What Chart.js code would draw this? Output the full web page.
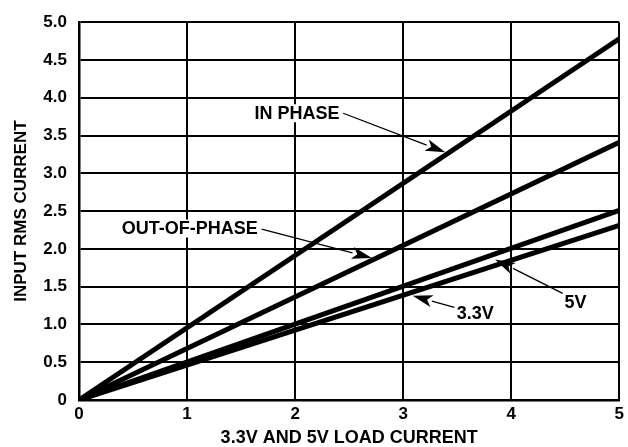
<!DOCTYPE html>
<html>
<head>
<meta charset="utf-8">
<script src="https://cdn.jsdelivr.net/npm/chart.js@4/dist/chart.umd.min.js"></script>
<style>
  html, body { margin: 0; padding: 0; background: #fff; }
  canvas { display: block; }
</style>
</head>
<body>
<canvas id="chart" width="628" height="447"></canvas>
<script>
// data
const loadCurrent = [0, 5];
const inPhase = [0, 4.78];
const outOfPhase = [0, 3.41];
const rail5V = [0, 2.51];
const rail33V = [0, 2.31];
const xTickLabels = ['0', '1', '2', '3', '4', '5'];
const yTickLabels = ['0', '0.5', '1.0', '1.5', '2.0', '2.5', '3.0', '3.5', '4.0', '4.5', '5.0'];

const FONT = '"Liberation Sans", Arial, Helvetica, sans-serif';

// callouts, placed in data units
const callouts = [
    { text: 'IN PHASE', at: [2.017, 3.795], from: [2.445, 3.795], to: [3.39, 3.28] },
    { text: 'OUT-OF-PHASE', at: [1.025, 2.27], from: [1.69, 2.26], to: [2.71, 1.88] },
    { text: '3.3V', at: [3.667, 1.152], from: [3.474, 1.225], to: [3.088, 1.38] },
    { text: '5V', at: [4.596, 1.298], from: [4.476, 1.411], to: [3.851, 1.86] }
];

function toPoints(ys) {
    return loadCurrent.map((x, i) => ({ x: x, y: ys[i] }));
}

function lineSet(ys) {
    return {
        data: toPoints(ys),
        borderColor: '#000',
        borderWidth: 5,
        pointRadius: 0,
        fill: false,
        tension: 0
    };
}

const calloutPlugin = {
    id: 'callouts',
    afterDatasetsDraw(chart) {
        const ctx = chart.ctx;
        const xs = chart.scales.x;
        const ys = chart.scales.y;
        ctx.save();
        ctx.font = 'bold 18px ' + FONT;
        ctx.textAlign = 'center';
        ctx.textBaseline = 'middle';
        callouts.forEach(c => {
            const tx = xs.getPixelForValue(c.at[0]);
            const ty = ys.getPixelForValue(c.at[1]);
            const w = ctx.measureText(c.text).width;
            ctx.fillStyle = '#fff';
            ctx.fillRect(tx - w / 2 - 2, ty - 9, w + 4, 18);
            ctx.fillStyle = '#000';
            ctx.fillText(c.text, tx, ty + 1);

            const x1 = xs.getPixelForValue(c.from[0]);
            const y1 = ys.getPixelForValue(c.from[1]);
            const x2 = xs.getPixelForValue(c.to[0]);
            const y2 = ys.getPixelForValue(c.to[1]);
            const ang = Math.atan2(y2 - y1, x2 - x1);
            const len = 20, half = 6;
            const bx = x2 - len * Math.cos(ang);
            const by = y2 - len * Math.sin(ang);
            ctx.strokeStyle = '#000';
            ctx.lineWidth = 1.3;
            ctx.beginPath();
            ctx.moveTo(x1, y1);
            ctx.lineTo(bx, by);
            ctx.stroke();
            ctx.beginPath();
            ctx.moveTo(x2, y2);
            ctx.lineTo(bx + half * Math.sin(ang), by - half * Math.cos(ang));
            ctx.lineTo(x2 - 0.75 * len * Math.cos(ang), y2 - 0.75 * len * Math.sin(ang));
            ctx.lineTo(bx - half * Math.sin(ang), by + half * Math.cos(ang));
            ctx.closePath();
            ctx.fill();
        });
        ctx.restore();
    }
};

new Chart(document.getElementById('chart'), {
    type: 'line',
    data: {
        datasets: [
            lineSet(inPhase),
            lineSet(outOfPhase),
            lineSet(rail5V),
            lineSet(rail33V)
        ]
    },
    options: {
        responsive: false,
        animation: false,
        devicePixelRatio: 1,
        layout: { padding: { top: 22, right: 5, left: 0, bottom: 0 } },
        plugins: {
            legend: { display: false },
            tooltip: { enabled: false }
        },
        scales: {
            x: {
                type: 'linear',
                min: 0,
                max: 5,
                afterFit(scale) { scale.height = 47; },
                grid: { color: '#000', lineWidth: 2, drawTicks: false },
                border: { color: '#000', width: 2.5 },
                ticks: {
                    stepSize: 1,
                    padding: 4,
                    color: '#000',
                    font: { family: FONT, size: 17, weight: 'bold' },
                    callback: (v, i) => xTickLabels[i]
                },
                title: {
                    display: true,
                    text: '3.3V AND 5V LOAD CURRENT',
                    color: '#000',
                    font: { family: FONT, size: 18, weight: 'bold', lineHeight: 1 },
                    padding: { top: 0, bottom: 0 }
                }
            },
            y: {
                min: 0,
                max: 5,
                afterFit(scale) { scale.width = 79; },
                grid: { color: '#000', lineWidth: 2, drawTicks: false },
                border: { color: '#000', width: 2.5 },
                ticks: {
                    stepSize: 0.5,
                    padding: 12,
                    color: '#000',
                    font: { family: FONT, size: 17, weight: 'bold' },
                    callback: (v, i) => yTickLabels[i]
                },
                title: {
                    display: true,
                    text: 'INPUT RMS CURRENT',
                    color: '#000',
                    font: { family: FONT, size: 17, weight: 'bold', lineHeight: 1.2 },
                    padding: { top: 11, bottom: 0 }
                }
            }
        }
    },
    plugins: [calloutPlugin]
});
</script>
</body>
</html>
